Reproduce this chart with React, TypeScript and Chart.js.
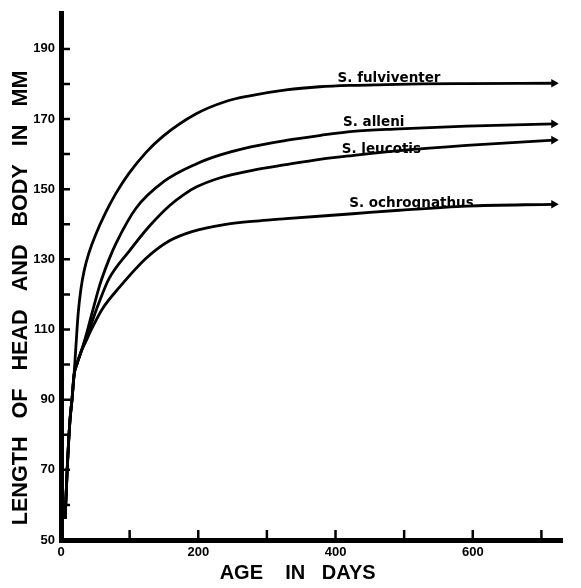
import React, { useEffect, useRef } from 'react';
import { Chart, registerables } from 'chart.js';

Chart.register(...registerables);

// ---- data (age in days, length of head and body in mm) ----
const fulviventerDays = [6, 9, 13, 16, 19, 22, 25, 29, 34, 41, 50, 65, 80, 99, 124, 148, 197, 240, 275, 328, 377, 425, 474, 523, 591, 718];
const fulviventerMM = [56, 70, 84, 90, 97, 106, 114.5, 121.5, 127, 132, 136.8, 143.3, 148.8, 154.5, 160.5, 165, 171.5, 175, 176.6, 178.3, 179.2, 179.6, 179.8, 180, 180.1, 180.2];

const alleniDays = [6, 9, 13, 16, 19, 23, 29, 36, 45, 57, 70, 80, 109, 150, 197, 231, 275, 328, 377, 425, 493, 591, 718];
const alleniMM = [56, 70, 84, 90, 97, 100, 103.5, 108, 114.5, 123, 130, 134.5, 144.5, 152.2, 157.2, 159.7, 162, 163.9, 165.3, 166.5, 167.2, 168, 168.6];

const leucotisDays = [6, 9, 13, 16, 19, 23, 29, 36, 43, 55, 70, 100, 128, 158, 180, 197, 231, 279, 328, 377, 425, 493, 591, 718];
const leucotisMM = [56, 70, 84, 90, 97, 100, 103.5, 107.2, 111, 117.5, 124.5, 132.5, 139.3, 145.3, 148.6, 150.6, 153.2, 155.4, 157, 158.5, 159.6, 161, 162.5, 164];

const ochrognathusDays = [6, 9, 13, 16, 19, 23, 29, 36, 45, 60, 85, 124, 158, 192, 240, 289, 328, 425, 493, 591, 718];
const ochrognathusMM = [56, 70, 84, 90, 97, 100, 103.5, 106.5, 110.3, 115.8, 122, 130.3, 135.3, 138, 140, 141, 141.6, 143, 144, 145.2, 145.7];

const seriesNames = ['S. fulviventer', 'S. alleni', 'S. leucotis', 'S. ochrognathus'];
const seriesDays = [fulviventerDays, alleniDays, leucotisDays, ochrognathusDays];
const seriesMM = [fulviventerMM, alleniMM, leucotisMM, ochrognathusMM];

// name annotations, anchored in data units (left edge day, mm)
const labelDays = [403, 411, 409, 420];
const labelMM = [181.6, 168.9, 161.2, 146];

const xTickLabels = [0, 200, 400, 600];
const yTickLabels = [50, 70, 90, 110, 130, 150, 170, 190];

const xTitle = 'AGE    IN   DAYS';
const yTitle = 'LENGTH   OF   HEAD   AND   BODY   IN   MM';

const tickFont = { family: '"Liberation Sans", Arial, sans-serif', weight: 'bold' as const, size: 13 };

const inwardTicks = {
  id: 'inwardTicks',
  afterDatasetsDraw(chart: any) {
    const { ctx } = chart;
    const xs = chart.scales.x;
    const ys = chart.scales.y;
    ctx.save();
    ctx.strokeStyle = '#000';
    ctx.lineWidth = 2.5;
    ctx.beginPath();
    xs.ticks.forEach((t: any) => {
      if (t.value <= xs.min) return;
      const px = xs.getPixelForValue(t.value);
      ctx.moveTo(px, ys.bottom);
      ctx.lineTo(px, ys.bottom - 10);
    });
    ys.ticks.forEach((t: any) => {
      if (t.value <= ys.min || t.value >= ys.max) return;
      const py = ys.getPixelForValue(t.value);
      ctx.moveTo(xs.left, py);
      ctx.lineTo(xs.left + 9, py);
    });
    ctx.stroke();
    ctx.restore();
  },
};

const seriesLabels = {
  id: 'seriesLabels',
  afterDatasetsDraw(chart: any) {
    const { ctx } = chart;
    const xs = chart.scales.x;
    const ys = chart.scales.y;
    ctx.save();
    ctx.fillStyle = '#000';
    ctx.font = 'bold 13.5px "DejaVu Sans", sans-serif';
    ctx.textAlign = 'left';
    ctx.textBaseline = 'middle';
    seriesNames.forEach((name, i) => {
      ctx.fillText(name, xs.getPixelForValue(labelDays[i]), ys.getPixelForValue(labelMM[i]));
    });
    ctx.restore();
  },
};

export default function App() {
  const canvasRef = useRef<HTMLCanvasElement | null>(null);

  useEffect(() => {
    if (!canvasRef.current) return;
    const datasets = seriesNames.map((name, si) => {
      const n = seriesDays[si].length;
      return {
        label: name,
        data: seriesDays[si].map((d, i) => ({ x: d, y: seriesMM[si][i] })),
        borderColor: '#000',
        borderWidth: 2.8,
        backgroundColor: '#000',
        pointBackgroundColor: '#000',
        pointBorderColor: '#000',
        pointBorderWidth: 0,
        pointStyle: 'triangle' as const,
        rotation: 90,
        pointRadius: (c: any) => (c.dataIndex === n - 1 ? 5 : 0),
        pointHoverRadius: 0,
        cubicInterpolationMode: 'monotone' as const,
        fill: false,
        clip: false as any,
      };
    });

    const chart = new Chart(canvasRef.current, {
      type: 'line',
      data: { datasets },
      options: {
        animation: false,
        responsive: true,
        maintainAspectRatio: false,
        layout: { padding: { top: 10, right: 19, bottom: 0, left: 0 } },
        plugins: { legend: { display: false }, tooltip: { enabled: false } },
        scales: {
          x: {
            type: 'linear',
            min: 0,
            max: 730,
            grid: { display: false, drawTicks: false, tickLength: 0 },
            border: { display: true, width: 5, color: '#000' },
            ticks: {
              stepSize: 100,
              includeBounds: false,
              autoSkip: false,
              maxRotation: 0,
              padding: 5,
              color: '#000',
              font: tickFont,
              callback: (v: any) => (xTickLabels.includes(Number(v)) ? String(v) : ''),
            },
            title: {
              display: true,
              text: xTitle + '     ',
              color: '#000',
              font: { family: '"Liberation Sans", Arial, sans-serif', weight: 'bold', size: 20 },
              padding: { top: 0, bottom: 3 },
            },
            afterFit: (s: any) => {
              s.height = 48;
            },
          },
          y: {
            type: 'linear',
            min: 50,
            max: 200,
            grid: { display: false, drawTicks: false, tickLength: 0 },
            border: { display: true, width: 5, color: '#000' },
            ticks: {
              stepSize: 10,
              autoSkip: false,
              padding: 6,
              color: '#000',
              font: tickFont,
              callback: (v: any) => (yTickLabels.includes(Number(v)) ? String(v) : ''),
            },
            title: {
              display: true,
              text: yTitle + '       ',
              color: '#000',
              font: { family: '"Liberation Sans", Arial, sans-serif', weight: 'bold', size: 21.6 },
              padding: { top: 8, bottom: 0 },
            },
            afterFit: (s: any) => {
              s.width = 61;
            },
          },
        },
      },
      plugins: [inwardTicks, seriesLabels],
    });
    return () => chart.destroy();
  }, []);

  return (
    <div style={{ position: 'fixed', left: 0, top: 0, width: '581px', height: '588px', background: '#fff' }}>
      <canvas ref={canvasRef} />
    </div>
  );
}
